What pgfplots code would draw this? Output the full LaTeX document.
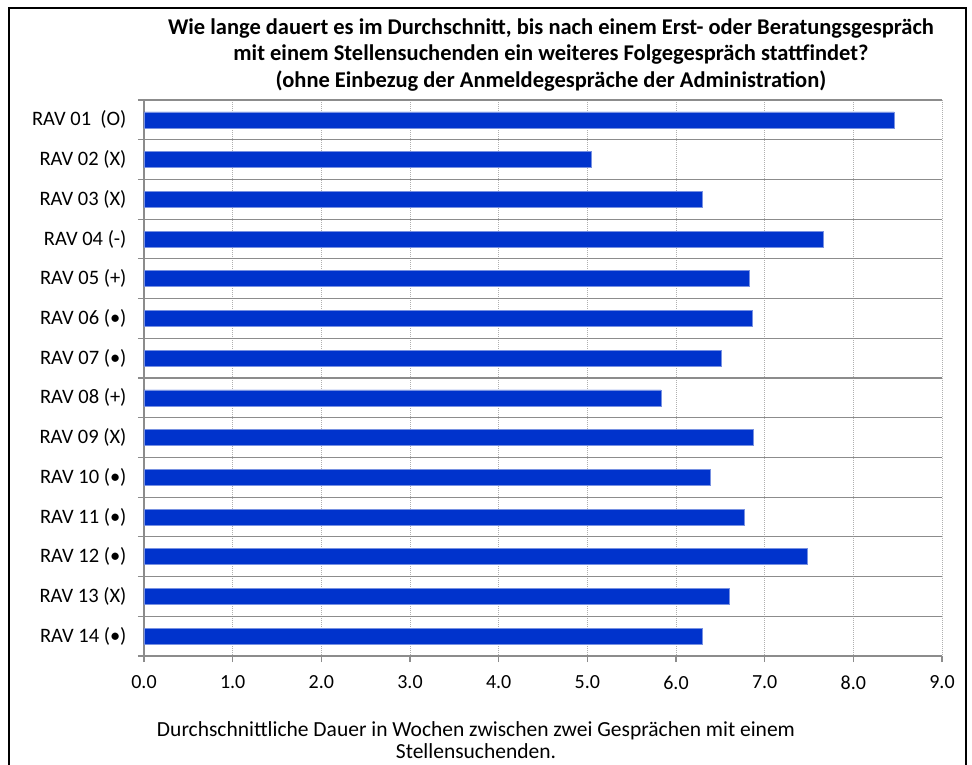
\documentclass[border=0pt]{standalone}
\usepackage{pgfplots}
\pgfplotsset{compat=1.18}
\usepackage{fontspec}
\setmainfont{Carlito}
\definecolor{barblue}{RGB}{0,51,204}
\definecolor{baredge}{RGB}{120,145,225}
\definecolor{hline}{RGB}{140,140,140}
\definecolor{vgrid}{RGB}{175,175,175}
\begin{document}
\begin{tikzpicture}[x=1pt,y=1pt]
\useasboundingbox (0,0) rectangle (972,764);
\draw[line width=2.5pt] (9,-5) -- (9,756) -- (966,756) -- (966,-5);
\node[font=\fontsize{22.5}{26.5}\selectfont\bfseries, align=center] at (551,709)
  {Wie lange dauert es im Durchschnitt, bis nach einem Erst- oder Beratungsgespräch\\
   mit einem Stellensuchenden ein weiteres Folgegespräch stattfindet?\\
   (ohne Einbezug der Anmeldegespräche der Administration)};
\begin{axis}[
  at={(144pt,108pt)}, anchor=south west, scale only axis,
  width=798pt, height=556pt,
  xbar, bar width=16pt,
  xmin=0, xmax=9, ymin=-0.5, ymax=13.5, y dir=reverse,
  xtick={0,1,...,9},
  xticklabel style={/pgf/number format/fixed, /pgf/number format/precision=1, /pgf/number format/fixed zerofill, yshift=-10pt, font=\fontsize{20}{22}\selectfont},
  /pgf/number format/assume math mode=true,
  ytick={0,1,...,13},
  yticklabels={RAV 01\ \ (O), RAV 02 (X), RAV 03 (X), RAV 04 (-), RAV 05 (+), RAV 06 (•), RAV 07 (•), RAV 08 (+), RAV 09 (X), RAV 10 (•), RAV 11 (•), RAV 12 (•), RAV 13 (X), RAV 14 (•)},
  yticklabel style={font=\fontsize{20.5}{22}\selectfont, xshift=-8pt},
  minor ytick={-0.5,0.5,1.5,2.5,3.5,4.5,5.5,6.5,7.5,8.5,9.5,10.5,11.5,12.5,13.5},
  yminorgrids, minor y grid style={hline, line width=1.2pt},
  xmajorgrids, major x grid style={vgrid, dash pattern=on 1pt off 1pt, line width=1pt},
  axis lines*=left, axis line style={hline, line width=1.2pt, -},
  tick align=outside, major tick length=6pt, minor tick length=6pt,
  major y tick style={draw=none}, minor y tick style={hline, line width=1.2pt},
  major x tick style={hline, line width=1.2pt},
]
\addplot[fill=barblue, draw=baredge, line width=0.6pt] coordinates {
  (8.46,0) (5.04,1) (6.30,2) (7.66,3) (6.83,4) (6.86,5) (6.51,6)
  (5.83,7) (6.87,8) (6.39,9) (6.77,10) (7.48,11) (6.60,12) (6.30,13)};
\end{axis}
\node[font=\fontsize{21.5}{22}\selectfont, align=center] at (476,24)
  {Durchschnittliche Dauer in Wochen zwischen zwei Gesprächen mit einem\\ Stellensuchenden.};
\end{tikzpicture}
\end{document}
